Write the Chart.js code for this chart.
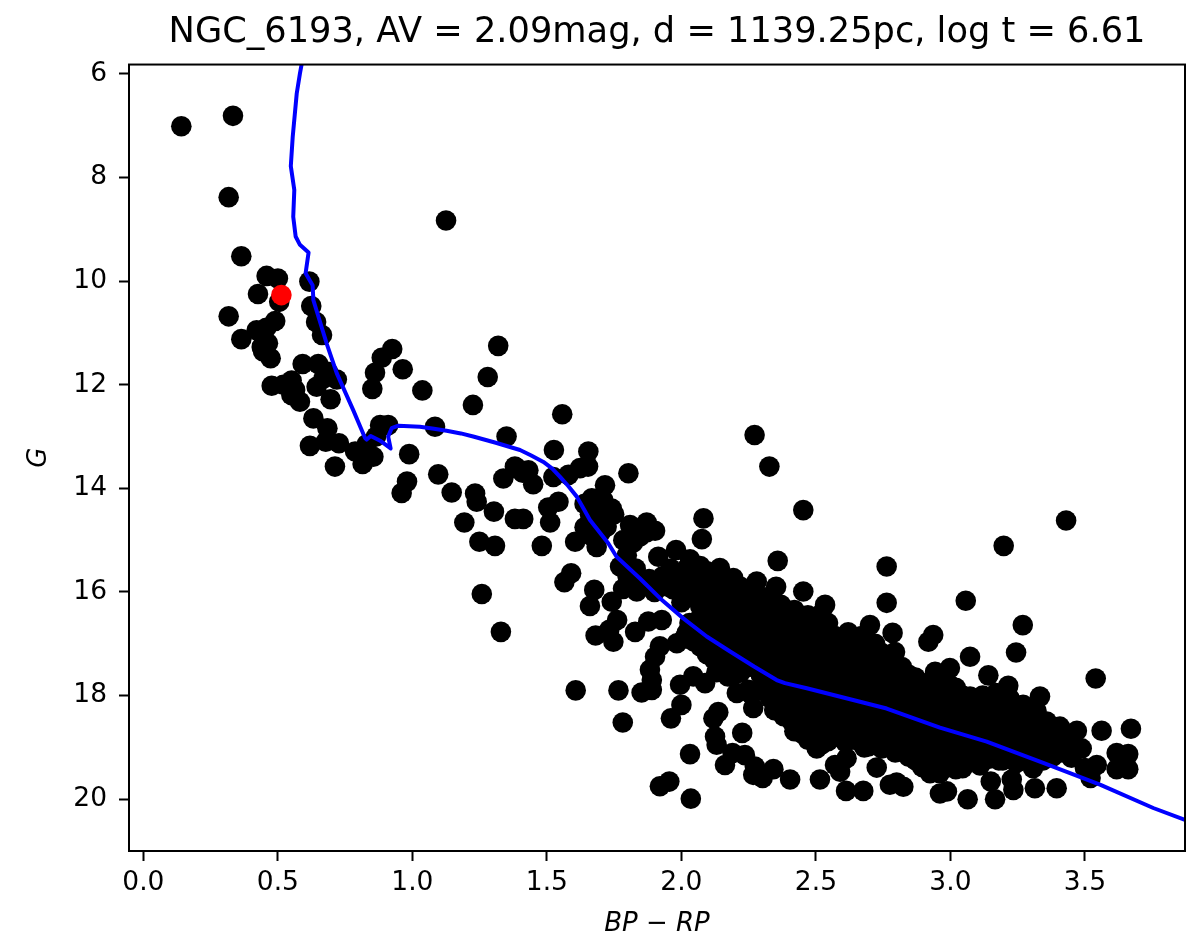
<!DOCTYPE html>
<html><head><meta charset="utf-8">
<script src="https://cdn.jsdelivr.net/npm/chart.js@4"></script>
<style>html,body{margin:0;padding:0;background:#fff}canvas{display:block}</style>
</head><body><canvas id="c" width="1200" height="944"></canvas>
<script>
const chartTitle = "NGC_6193, AV = 2.09mag, d = 1139.25pc, log t = 6.61";
const xLabel = "BP \u2212 RP";
const yLabel = "G";
const xTicks = [0, 0.5, 1, 1.5, 2, 2.5, 3, 3.5];
const yTicks = [6, 8, 10, 12, 14, 16, 18, 20];
const highlightStar = [[0.513, 10.27]];
const isoBPRP = [.588,.582,.57,.555,.548,.561,.557,.566,.582,.614,.603,.629,.632,.681,.719,.78,.824,.83,.845,.88,.919,.91,.923,.948,1.028,1.08,1.127,1.18,1.226,1.31,1.40,1.44,1.487,1.52,1.549,1.58,1.611,1.635,1.66,1.728,1.759,1.846,1.92,2.007,2.094,2.181,2.27,2.354,2.385,2.466,2.763,2.961,3.135,3.345,3.556,3.754,3.872];
const isoG = [5.82,5.99,6.38,7.22,7.78,8.24,8.76,9.14,9.30,9.45,9.85,10.08,10.37,11.20,11.78,12.49,13.03,13.06,12.99,13.08,13.23,13.0,12.84,12.79,12.81,12.85,12.89,12.94,13.0,13.12,13.26,13.36,13.49,13.62,13.78,13.96,14.16,14.38,14.61,15.06,15.32,15.74,16.12,16.51,16.86,17.15,17.44,17.70,17.76,17.86,18.25,18.62,18.89,19.30,19.72,20.17,20.40];
const starsBright = [[.141,7.01],[.333,6.81],[.317,8.38],[1.125,8.83],[.364,9.52],[.458,9.90],[.5,9.95],[.617,10.01],[.426,10.25],[.505,10.4],[.624,10.48],[.317,10.68],[.49,10.77],[.642,10.79],[.664,11.04],[.457,10.9],[.421,10.95],[.364,11.12],[.463,11.2],[.44,11.27],[.445,11.36],[.473,11.49],[1.319,11.25],[.925,11.31],[.886,11.48],[.964,11.70],[.861,11.77],[1.28,11.85],[.851,12.08],[1.037,12.11],[1.225,12.39],[.592,11.6],[.65,11.6],[.686,11.75],[.719,11.9],[.644,12.04],[.67,11.88],[.477,12.02],[.52,12.0],[.551,11.92],[.564,12.1],[.582,12.33],[.55,12.2],[.696,12.28],[.632,12.65],[.684,12.84],[.619,13.18],[.678,13.1],[.727,13.13],[.787,13.29],[.712,13.58],[.815,13.53],[.855,13.39],[.88,12.78],[.91,12.78],[.865,13.0],[.83,13.15],[.988,13.34],[1.084,12.81],[1.35,13.0],[1.096,13.73],[.98,13.87],[1.338,13.81],[1.381,13.58],[.96,14.09]];
const starsMiddle = [[1.146,14.08],[1.233,14.1],[1.239,14.26],[1.303,14.45],[1.193,14.66],[1.381,14.59],[1.412,14.59],[1.249,15.03],[1.307,15.11],[1.481,15.11],[1.258,16.04],[1.329,16.77],[1.557,12.57],[1.526,13.26],[1.654,13.29],[2.272,12.97],[2.327,13.58],[1.803,13.71],[1.388,13.61],[1.431,13.65],[1.449,13.92],[1.41,13.7],[1.524,13.78],[1.58,13.74],[1.623,13.61],[1.653,13.58],[1.716,13.94],[1.543,14.26],[1.505,14.37],[1.512,14.66],[1.667,14.19],[1.71,14.23],[1.741,14.39],[1.68,14.4],[1.66,14.67],[1.722,14.74],[1.7,14.6],[1.605,15.03],[1.685,15.13],[1.66,14.9],[1.809,14.71],[1.871,14.66],[1.902,14.82],[1.846,14.93],[1.784,15.0],[1.797,15.29],[1.772,15.51],[2.082,14.58],[2.076,14.98],[1.914,15.32],[1.98,15.19],[2.032,15.37],[2.143,15.54],[2.193,15.73],[2.28,15.8],[2.358,15.4],[2.352,15.9],[2.453,14.42],[1.59,15.64],[1.565,15.81],[1.676,15.96],[1.66,16.27],[1.741,16.19],[1.783,15.94],[1.834,15.99],[1.9,16.0],[1.97,15.95],[1.761,16.54],[1.732,16.73],[1.681,16.84],[1.747,16.96],[1.828,16.77],[1.877,16.57],[1.927,16.54],[1.92,17.05],[1.983,16.99],[2.02,16.79],[1.902,17.25],[1.883,17.5],[1.89,17.7],[1.852,17.94],[1.89,17.89],[1.607,17.9],[1.766,17.9],[1.782,18.52],[1.64,14.3],[1.69,14.55],[1.66,14.5],[1.7,14.85],[1.64,14.75],[1.75,14.5],[1.82,15.05],[1.87,14.85],[1.82,14.85],[1.83,15.55],[1.88,15.75],[1.85,15.85],[1.93,15.7],[1.8,15.7],[1.96,15.55],[1.98,15.65],[1.95,15.9],[2.0,16.2]];
const starsFaintLow = [[1.995,17.79],[2.044,17.63],[2.088,17.76],[2.0,18.18],[1.961,18.44],[2.137,18.32],[2.119,18.44],[2.125,18.79],[2.131,18.95],[2.226,18.72],[2.032,19.13],[2.162,19.34],[2.19,19.11],[2.236,19.15],[2.273,19.37],[2.267,19.53],[2.302,19.59],[2.342,19.42],[2.404,19.62],[1.92,19.75],[1.955,19.66],[2.035,19.99],[2.206,17.95],[2.249,17.89],[2.267,18.24],[2.173,17.63],[2.391,18.41],[2.42,18.69],[2.763,15.51],[2.763,16.21],[2.701,16.64],[2.785,16.79],[2.794,17.16],[2.936,16.83],[2.918,16.96],[2.453,15.99],[2.534,16.25],[2.515,19.62],[2.612,19.84],[2.676,19.84],[2.614,19.21],[2.571,19.34],[2.59,19.47],[2.726,19.39],[2.775,19.72],[2.8,19.68],[2.825,19.76],[2.503,19.02],[2.664,18.89],[2.805,19.08],[2.924,19.5],[2.961,19.89],[3.43,14.62],[3.198,15.11],[3.057,16.17],[3.269,16.64],[3.244,17.17],[3.073,17.25],[3.54,17.67],[3.333,18.02],[3.141,17.61],[3.215,17.81],[2.998,17.47],[2.943,17.54],[3.073,18.02],[3.036,18.08],[3.27,18.18],[3.358,18.5],[3.407,18.6],[3.47,18.68],[3.562,18.68],[3.671,18.64],[3.488,19.02],[3.618,19.11],[3.661,19.13],[3.618,19.42],[3.661,19.42],[3.544,19.34],[3.5,19.4],[3.521,19.59],[3.395,19.79],[3.314,19.79],[3.307,19.4],[3.234,19.82],[3.228,19.62],[3.15,19.66],[3.166,20.0],[3.064,20.0],[2.987,19.85]];
const starsDense = [[2.02,15.55],[2.03,15.85],[2.01,16.1],[2.03,16.6],[2.01,16.9],[2.07,15.5],[2.06,15.78],[2.08,16.05],[2.07,16.28],[2.06,16.55],[2.08,16.82],[2.07,17.05],[2.12,15.65],[2.13,15.95],[2.11,16.2],[2.12,16.5],[2.13,16.75],[2.11,17.02],[2.12,17.3],[2.13,17.55],[2.17,15.8],[2.16,16.02],[2.18,16.33],[2.17,16.62],[2.16,16.9],[2.18,17.22],[2.17,17.45],[2.22,15.9],[2.23,16.15],[2.21,16.42],[2.22,16.7],[2.23,16.98],[2.21,17.3],[2.22,17.55],[2.27,16.0],[2.26,16.3],[2.28,16.55],[2.27,16.85],[2.26,17.1],[2.28,17.4],[2.26,17.98],[2.32,16.1],[2.33,16.38],[2.31,16.65],[2.32,16.92],[2.33,17.2],[2.31,17.48],[2.32,17.75],[2.33,18.05],[2.37,16.25],[2.36,16.5],[2.38,16.78],[2.37,17.05],[2.36,17.35],[2.38,17.6],[2.37,17.85],[2.36,18.15],[2.38,18.4],[2.42,16.35],[2.43,16.62],[2.41,16.9],[2.42,17.15],[2.43,17.42],[2.41,17.7],[2.42,18.0],[2.43,18.25],[2.41,18.5],[2.47,16.45],[2.46,16.7],[2.48,16.98],[2.47,17.25],[2.46,17.5],[2.48,17.8],[2.47,18.08],[2.46,18.35],[2.48,18.62],[2.47,18.85],[2.52,16.42],[2.53,16.75],[2.51,17.05],[2.52,17.3],[2.53,17.6],[2.51,17.88],[2.52,18.15],[2.53,18.45],[2.51,18.72],[2.52,18.95],[2.57,16.85],[2.56,17.12],[2.58,17.4],[2.57,17.65],[2.56,17.95],[2.58,18.22],[2.57,18.5],[2.56,18.78],[2.62,16.78],[2.63,17.05],[2.61,17.32],[2.62,17.6],[2.63,17.85],[2.61,18.1],[2.62,18.38],[2.63,18.65],[2.61,18.9],[2.67,16.85],[2.66,17.15],[2.68,17.42],[2.67,17.7],[2.66,17.98],[2.68,18.25],[2.67,18.55],[2.66,18.8],[2.68,19.0],[2.72,17.0],[2.73,17.28],[2.71,17.55],[2.72,17.8],[2.73,18.08],[2.71,18.35],[2.72,18.62],[2.73,18.88],[2.77,17.3],[2.76,17.58],[2.78,17.85],[2.77,18.12],[2.76,18.4],[2.78,18.7],[2.77,18.95],[2.82,17.45],[2.83,17.72],[2.81,18.0],[2.82,18.28],[2.83,18.55],[2.81,18.8],[2.82,19.05],[2.87,17.65],[2.86,17.9],[2.88,18.18],[2.87,18.45],[2.86,18.72],[2.88,18.98],[2.87,19.25],[2.92,17.75],[2.93,18.02],[2.91,18.3],[2.92,18.58],[2.93,18.85],[2.91,19.1],[2.92,19.35],[2.97,17.7],[2.96,17.95],[2.98,18.22],[2.97,18.5],[2.96,18.78],[2.98,19.02],[2.97,19.28],[2.96,19.5],[3.02,17.85],[3.03,18.12],[3.01,18.4],[3.02,18.68],[3.03,18.92],[3.01,19.2],[3.02,19.42],[3.07,18.25],[3.06,18.52],[3.08,18.78],[3.07,19.05],[3.06,19.3],[3.12,18.0],[3.13,18.3],[3.11,18.58],[3.12,18.85],[3.13,19.12],[3.11,19.35],[3.17,17.95],[3.16,18.22],[3.18,18.5],[3.17,18.75],[3.16,19.0],[3.18,19.25],[3.22,18.05],[3.23,18.38],[3.21,18.62],[3.22,18.9],[3.23,19.15],[3.27,18.4],[3.26,18.68],[3.28,18.95],[3.27,19.2],[3.32,18.3],[3.33,18.6],[3.31,18.85],[3.32,19.1],[3.37,18.7],[3.36,18.95],[3.38,19.18],[3.42,18.85],[3.41,19.1],[3.46,18.95],[3.45,19.2]];
const starsDenseExtra = [[2.045,15.7],[2.045,16.0],[2.045,16.7],[2.045,16.95],[2.095,15.6],[2.095,15.9],[2.095,16.15],[2.095,16.4],[2.095,16.65],[2.095,16.95],[2.095,17.2],[2.145,15.8],[2.145,16.1],[2.145,16.35],[2.145,16.62],[2.145,16.88],[2.145,17.15],[2.145,17.42],[2.195,15.95],[2.195,16.2],[2.195,16.48],[2.195,16.78],[2.195,17.08],[2.195,17.35],[2.195,17.6],[2.245,16.05],[2.245,16.28],[2.245,16.6],[2.245,16.85],[2.245,17.15],[2.245,17.45],[2.295,16.22],[2.295,16.5],[2.295,16.78],[2.295,17.05],[2.295,17.32],[2.295,17.6],[2.295,17.9],[2.345,16.38],[2.345,16.65],[2.345,16.9],[2.345,17.18],[2.345,17.45],[2.345,17.72],[2.345,18.0],[2.345,18.28],[2.395,16.45],[2.395,16.75],[2.395,17.02],[2.395,17.28],[2.395,17.55],[2.395,17.85],[2.395,18.12],[2.395,18.38],[2.445,16.55],[2.445,16.85],[2.445,17.1],[2.445,17.38],[2.445,17.65],[2.445,17.92],[2.445,18.18],[2.445,18.45],[2.445,18.72],[2.495,16.62],[2.495,16.9],[2.495,17.18],[2.495,17.45],[2.495,17.72],[2.495,18.0],[2.495,18.28],[2.495,18.55],[2.495,18.8],[2.545,16.6],[2.545,16.95],[2.545,17.25],[2.545,17.52],[2.545,17.8],[2.545,18.08],[2.545,18.35],[2.545,18.62],[2.545,18.88],[2.595,16.95],[2.595,17.22],[2.595,17.5],[2.595,17.75],[2.595,18.02],[2.595,18.3],[2.595,18.58],[2.595,18.82],[2.645,16.92],[2.645,17.2],[2.645,17.48],[2.645,17.75],[2.645,18.05],[2.645,18.32],[2.645,18.6],[2.645,18.85],[2.695,17.05],[2.695,17.35],[2.695,17.6],[2.695,17.9],[2.695,18.18],[2.695,18.45],[2.695,18.72],[2.695,18.98],[2.745,17.18],[2.745,17.45],[2.745,17.7],[2.745,17.95],[2.745,18.22],[2.745,18.5],[2.745,18.78],[2.745,19.02],[2.795,17.45],[2.795,17.72],[2.795,18.0],[2.795,18.25],[2.795,18.55],[2.795,18.85],[2.795,19.1],[2.845,17.6],[2.845,17.85],[2.845,18.1],[2.845,18.38],[2.845,18.65],[2.845,18.92],[2.845,19.18],[2.895,17.8],[2.895,18.08],[2.895,18.35],[2.895,18.62],[2.895,18.9],[2.895,19.12],[2.895,19.38],[2.945,17.85],[2.945,18.12],[2.945,18.42],[2.945,18.68],[2.945,18.95],[2.945,19.2],[2.945,19.42],[2.995,17.78],[2.995,18.05],[2.995,18.32],[2.995,18.6],[2.995,18.88],[2.995,19.15],[2.995,19.38],[3.045,18.0],[3.045,18.32],[3.045,18.6],[3.045,18.85],[3.045,19.12],[3.045,19.4],[3.095,18.15],[3.095,18.42],[3.095,18.7],[3.095,18.95],[3.095,19.2],[3.145,18.15],[3.145,18.42],[3.145,18.72],[3.145,18.98],[3.145,19.22],[3.195,18.12],[3.195,18.45],[3.195,18.72],[3.195,18.98],[3.195,19.25],[3.245,18.25],[3.245,18.55],[3.245,18.82],[3.245,19.08],[3.245,19.3],[3.295,18.5],[3.295,18.78],[3.295,19.02],[3.295,19.28],[3.345,18.72],[3.345,19.0],[3.345,19.25],[3.395,18.8],[3.395,19.02]];

const toXY = a => a.map(p => ({x: p[0], y: p[1]}));
const stars = [].concat(starsBright, starsMiddle, starsFaintLow, starsDense, starsDenseExtra);
const isochrone = isoBPRP.map((x, i) => ({x, y: isoG[i]}));

const frame = {
  id: 'frame',
  afterDraw(ch) {
    const a = ch.chartArea, c = ch.ctx;
    c.save(); c.strokeStyle = '#000'; c.lineWidth = 2;
    c.strokeRect(a.left, a.top, a.right - a.left, a.bottom - a.top);
    c.restore();
  }
};
const FONT = '"DejaVu Sans"';
new Chart(document.getElementById('c'), {
  type: 'scatter',
  data: { datasets: [
    { label: 'Highlight', data: toXY(highlightStar), backgroundColor: '#ff0000', borderWidth: 0, pointRadius: 10.3, pointHoverRadius: 10.3, order: 0 },
    { label: 'Isochrone', data: isochrone, showLine: true, borderColor: '#0000ff', borderWidth: 4, borderJoinStyle: 'round', pointRadius: 0, pointHoverRadius: 0, tension: 0, fill: false, order: 1 },
    { label: 'Stars', data: toXY(stars), backgroundColor: '#000000', borderWidth: 0, pointRadius: 10.3, pointHoverRadius: 10.3, order: 2 }
  ]},
  options: {
    responsive: false, animation: false, devicePixelRatio: 1,
    layout: { padding: { left: 0, right: 15, top: 0, bottom: 0 } },
    plugins: {
      legend: { display: false }, tooltip: { enabled: false },
      title: { display: true, fullSize: false, text: chartTitle, color: '#000', font: { family: FONT, size: 35.2, weight: 'normal', lineHeight: 1.2 }, padding: { top: 11.5, bottom: 10.8 } }
    },
    scales: {
      x: {
        type: 'linear', min: -0.0535, max: 3.872,
        afterBuildTicks: s => { s.ticks = xTicks.map(v => ({value: v})); },
        afterFit: s => { s.height = 93; },
        grid: { drawOnChartArea: false, drawTicks: true, tickLength: 10, tickColor: '#000', tickWidth: 2 },
        border: { display: true, color: '#000', width: 2 },
        ticks: { color: '#000', autoSkip: false, maxRotation: 0, padding: 6, font: { family: FONT, size: 26.5 }, callback: v => Number(v).toFixed(1) },
        title: { display: true, text: xLabel, color: '#000', font: { family: FONT, size: 26, style: 'italic' }, padding: { top: 0, bottom: 4 } }
      },
      y: {
        type: 'linear', reverse: true, min: 5.82, max: 21,
        afterBuildTicks: s => { s.ticks = yTicks.map(v => ({value: v})); },
        afterFit: s => { s.width = 129; },
        grid: { drawOnChartArea: false, drawTicks: true, tickLength: 10, tickColor: '#000', tickWidth: 2 },
        border: { display: true, color: '#000', width: 2 },
        ticks: { color: '#000', autoSkip: false, padding: 12, font: { family: FONT, size: 26.5 }, callback: v => String(v) },
        title: { display: true, text: yLabel, color: '#000', font: { family: FONT, size: 26, style: 'italic' }, padding: { top: 24, bottom: 0 } }
      }
    }
  },
  plugins: [frame]
});
</script></body></html>
